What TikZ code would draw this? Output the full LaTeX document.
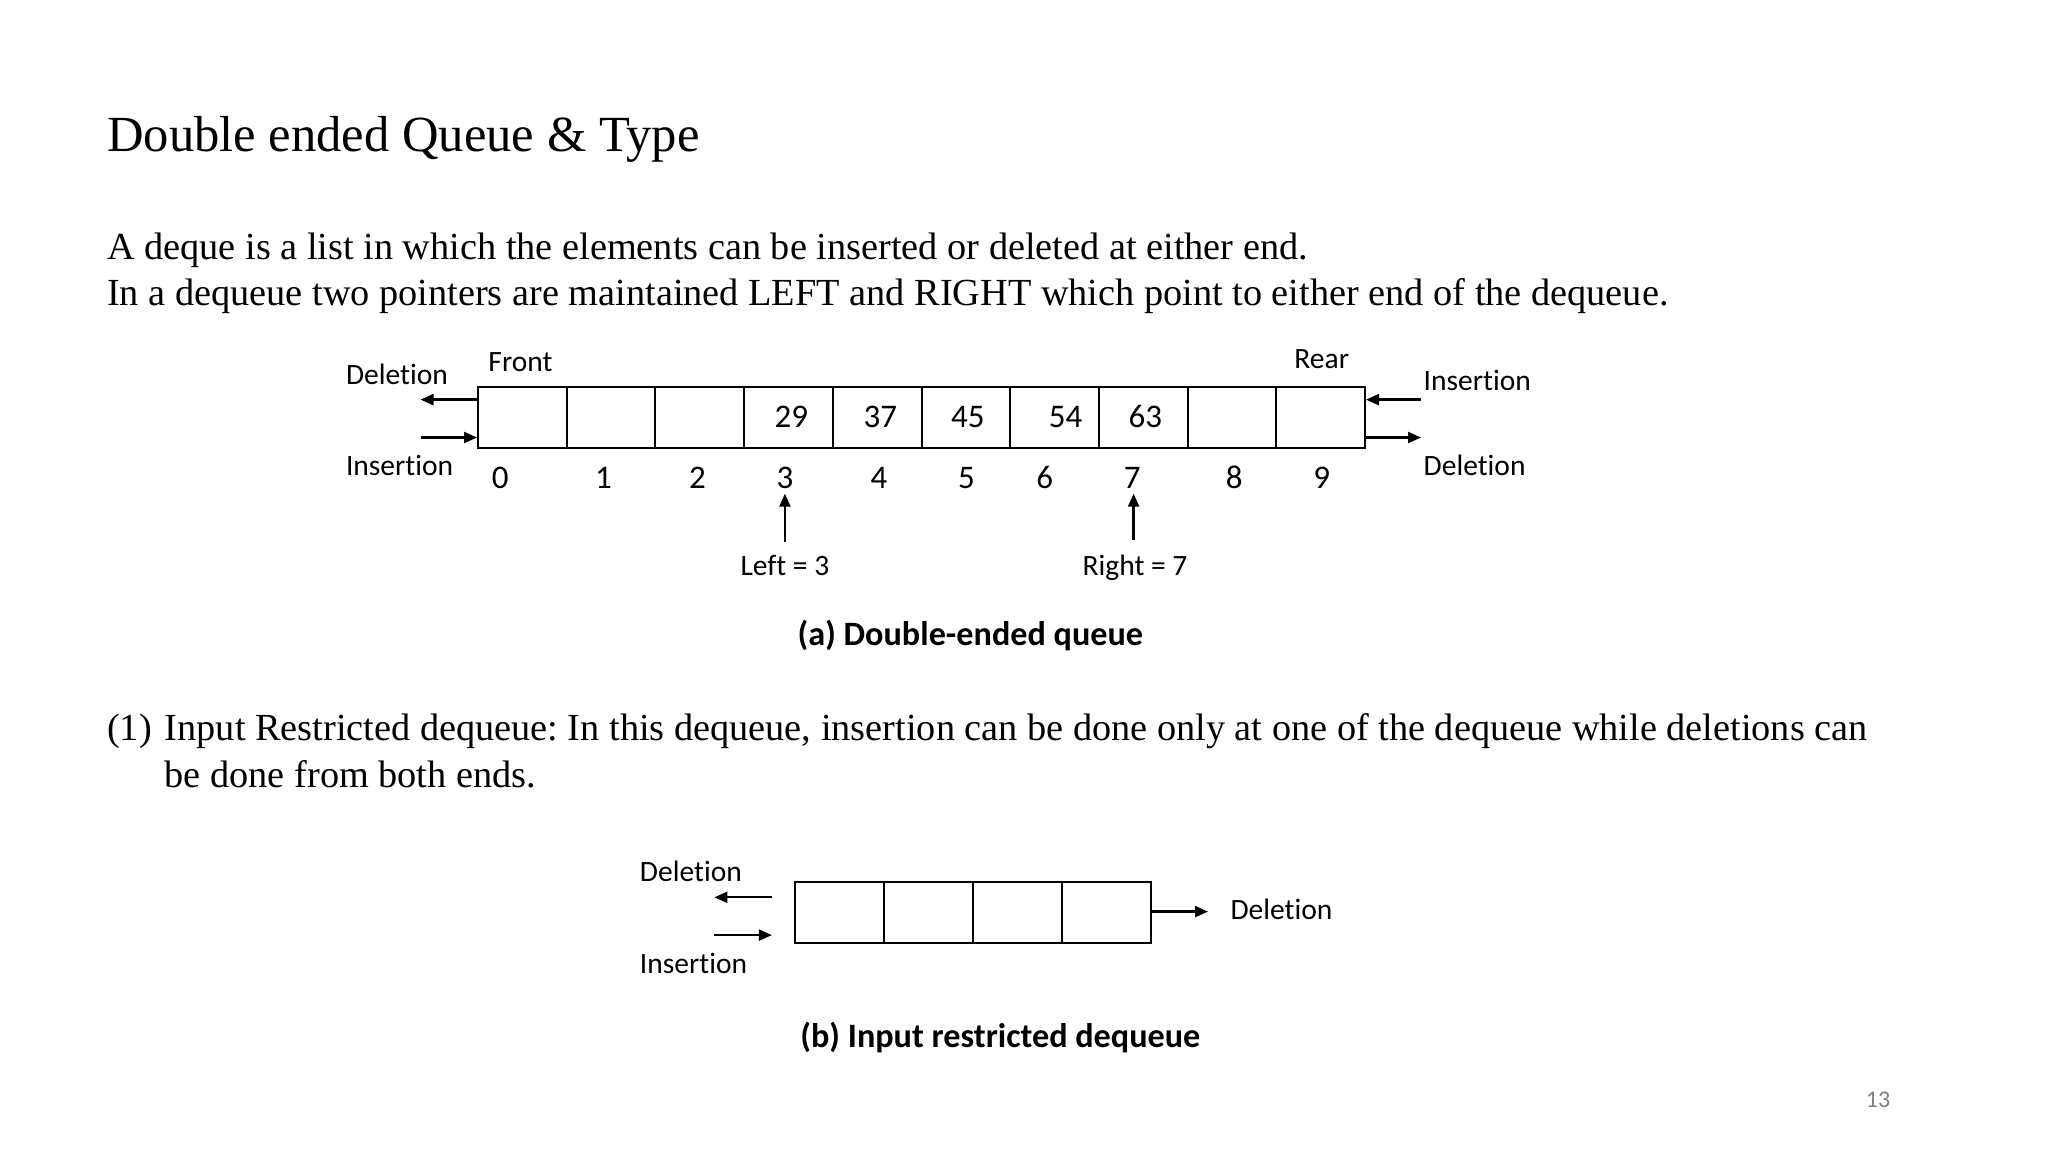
\documentclass[tikz,border=0pt]{standalone}
\usepackage{fontspec}
\setmainfont{Liberation Serif}
\newfontfamily\carl[Ligatures={NoCommon}]{Carlito}
\usetikzlibrary{arrows.meta}
\frenchspacing
\tikzset{
  lab/.style={font=\carl\fontsize{29.5}{32}\selectfont, inner sep=0pt, text height=19pt, text depth=0pt},
  num/.style={font=\carl\fontsize{33}{36}\selectfont, inner sep=0pt, text height=21pt, text depth=0pt},
  captxt/.style={font=\carl\bfseries\fontsize{34.2}{36}\selectfont, inner sep=0pt, text height=22pt, text depth=0pt},
  cellbox/.style={draw, line width=2pt, minimum width=88.7pt, minimum height=61.4pt, inner sep=0pt},
  arr/.style={line width=2.3pt, -{Triangle[length=13pt,width=11pt]}},
  body/.style={font=\fontsize{38.3}{46}\selectfont, inner sep=0pt, anchor=base west},
  ttl/.style={font=\fontsize{50.6}{60}\selectfont, inner sep=0pt, anchor=base west}
}
\begin{document}
\begin{tikzpicture}[x=1pt,y=-1pt]
\useasboundingbox[fill=white] (0,0) rectangle (2048,1152);

% title and text
\node[ttl] (title) at (107,151) {Double ended Queue \& Type};
\node[body] (t1) at (107,259) {A deque is a list in which the elements can be inserted or deleted at either end.};
\node[body] (t2) at (107,305) {In a dequeue two pointers are maintained LEFT and RIGHT which point to either end of the dequeue.};
\node[body] (p1) at (107,740) {(1)};
\node[body] (p1a) at (164.6,740) {Input Restricted dequeue: In this dequeue, insertion can be done only at one of the dequeue while deletions can};
\node[body] (p1b) at (164.6,787) {be done from both ends.};

% ---------- (a) ----------
\foreach \k in {0,...,9} \node[cellbox] (c\k) at ({522.35+88.7*\k},417.3) {};
\node[num] (v3) at (791.4,417) {29};
\node[num] (v4) at (880.3,417) {37};
\node[num] (v5) at (967.8,417) {45};
\node[num] (v6) at (1065.7,417) {54};
\node[num] (v7) at (1145.4,417) {63};

\foreach \k/\x in {0/500.2,1/603.4,2/697.4,3/784.9,4/879,5/966.4,6/1044.8,7/1132.3,8/1234.2,9/1321.7}
  \node[num] (i\k) at (\x,478) {\k};

\node[lab] (front) at (520.5,362) {Front};
\node[lab] (rear) at (1321.7,359) {Rear};

\node[lab] (ldel) at (397,375) {Deletion};
\node[lab] (lins) at (399.6,466) {Insertion};
\coordinate (lda) at (420.5,399.6);
\coordinate (lia) at (420.5,437.5);
\draw[arr] (c0.west |- lda) -- (lda);
\draw[arr] (lia) -- (c0.west |- lia);

\node[lab, anchor=west] (rins) at (1423.5,381.4) {Insertion};
\node[lab, anchor=west] (rdel) at (1423.5,466.3) {Deletion};
\coordinate (ria) at (1421,399.6);
\coordinate (rda) at (1421,437.5);
\draw[arr] (ria) -- (c9.east |- ria);
\draw[arr] (c9.east |- rda) -- (rda);

\node[lab] (left) at (784.9,566) {Left = 3};
\node[lab] (right) at (1135,566) {Right = 7};
\draw[arr] (784.9,542) -- (784.9,493.7);
\draw[arr] (1133.6,540) -- (1133.6,493.7);

\node[captxt] (capa) at (970.4,634) {(a) Double-ended queue};

% ---------- (b) ----------
\foreach \k in {0,...,3} \node[cellbox] (b\k) at ({839.8+88.8*\k},912.3) {};
\node[lab] (bdel) at (690.9,872.4) {Deletion};
\node[lab] (bins) at (693.5,964) {Insertion};
\coordinate (bda) at (714.4,897.3);
\coordinate (bdb) at (771.9,897.3);
\coordinate (bia) at (714.4,935.1);
\coordinate (bib) at (771.9,935.1);
\draw[arr] (bdb) -- (bda);
\draw[arr] (bia) -- (bib);
\coordinate (bra) at (1208,911.6);
\draw[arr] (b3.east |- bra) -- (bra);
\node[lab, anchor=west] (brdel) at (1230.3,910.3) {Deletion};

\node[captxt] (capb) at (1000.4,1036) {(b) Input restricted dequeue};

\node[font=\carl\fontsize{24}{26}\selectfont, text=black!50, inner sep=0pt] (pg) at (1878,1100) {13};
\end{tikzpicture}
\end{document}
